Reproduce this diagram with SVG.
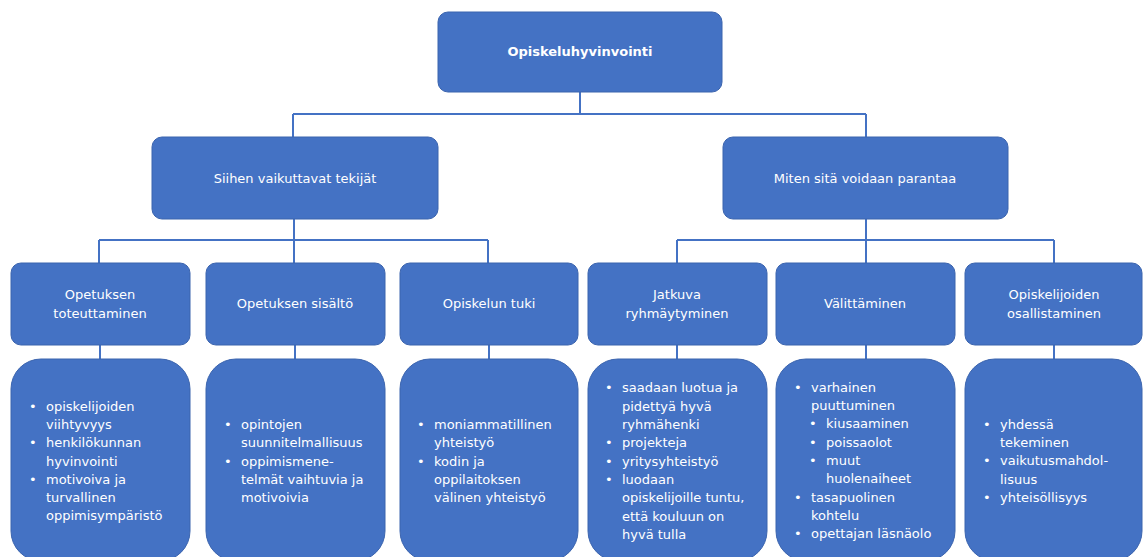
<svg xmlns="http://www.w3.org/2000/svg" width="1143" height="557" viewBox="0 0 1143 557">
<style>
.box{fill:#4472C4;stroke:#3B64AE;stroke-width:1}
.t{font-family:"DejaVu Sans",Verdana,sans-serif;font-size:13px;fill:#FFFFFF}
.c{text-anchor:middle}
.b{font-weight:bold}
.conn{fill:none;stroke:#4472C4;stroke-width:2}
</style>
<rect width="1143" height="557" fill="#FFFFFF"/>
<g id="connectors">
<path class="conn" d="M580 92V114M293 114H866M293 114V138M866 114V138"/>
<path class="conn" d="M294 218V263M99 240H488M99 240V263M488 240V263"/>
<path class="conn" d="M866 218V263M677 240H1054M677 240V263M1054 240V263"/>
<path class="conn" d="M100 344V360M295 344V360M489 344V360M677 344V360M866 344V360M1054 344V360"/>
</g>
<g id="n-root">
<rect class="box" x="438" y="12" width="284" height="80" rx="10"/>
<text class="t c b" x="580" y="56">Opiskeluhyvinvointi</text>
</g>
<g id="n-tekijat">
<rect class="box" x="152" y="137" width="286" height="82" rx="10"/>
<text class="t c" x="295" y="183">Siihen vaikuttavat tekijät</text>
</g>
<g id="n-parantaa">
<rect class="box" x="723" y="137" width="285" height="82" rx="10"/>
<text class="t c" x="865" y="183">Miten sitä voidaan parantaa</text>
</g>
<g id="n-toteuttaminen">
<rect class="box" x="11" y="263" width="179" height="82" rx="10"/>
<text class="t c" x="100" y="299">Opetuksen</text>
<text class="t c" x="100" y="318">toteuttaminen</text>
</g>
<g id="n-sisalto">
<rect class="box" x="206" y="263" width="179" height="82" rx="10"/>
<text class="t c" x="295" y="308">Opetuksen sisältö</text>
</g>
<g id="n-tuki">
<rect class="box" x="400" y="263" width="178" height="82" rx="10"/>
<text class="t c" x="489" y="308">Opiskelun tuki</text>
</g>
<g id="n-ryhmaytyminen">
<rect class="box" x="588" y="263" width="179" height="82" rx="10"/>
<text class="t c" x="677" y="299">Jatkuva</text>
<text class="t c" x="677" y="318">ryhmäytyminen</text>
</g>
<g id="n-valittaminen">
<rect class="box" x="776" y="263" width="179" height="82" rx="10"/>
<text class="t c" x="865" y="308">Välittäminen</text>
</g>
<g id="n-osallistaminen">
<rect class="box" x="965" y="263" width="177" height="82" rx="10"/>
<text class="t c" x="1054" y="299">Opiskelijoiden</text>
<text class="t c" x="1054" y="318">osallistaminen</text>
</g>
<g id="l-toteuttaminen">
<rect class="box" x="11" y="359" width="179" height="202" rx="30"/>
<text class="t"><tspan x="29" y="411">•</tspan><tspan x="46" y="411">opiskelijoiden</tspan><tspan x="46" y="429">viihtyvyys</tspan><tspan x="29" y="447">•</tspan><tspan x="46" y="447">henkilökunnan</tspan><tspan x="46" y="466">hyvinvointi</tspan><tspan x="29" y="484">•</tspan><tspan x="46" y="484">motivoiva ja</tspan><tspan x="46" y="502">turvallinen</tspan><tspan x="46" y="520">oppimisympäristö</tspan></text>
</g>
<g id="l-sisalto">
<rect class="box" x="206" y="359" width="179" height="202" rx="30"/>
<text class="t"><tspan x="224" y="429">•</tspan><tspan x="241" y="429">opintojen</tspan><tspan x="241" y="447">suunnitelmallisuus</tspan><tspan x="224" y="466">•</tspan><tspan x="241" y="466">oppimismene-</tspan><tspan x="241" y="484">telmät vaihtuvia ja</tspan><tspan x="241" y="502">motivoivia</tspan></text>
</g>
<g id="l-tuki">
<rect class="box" x="400" y="359" width="178" height="202" rx="30"/>
<text class="t"><tspan x="417" y="429">•</tspan><tspan x="434" y="429">moniammatillinen</tspan><tspan x="434" y="447">yhteistyö</tspan><tspan x="417" y="466">•</tspan><tspan x="434" y="466">kodin ja</tspan><tspan x="434" y="484">oppilaitoksen</tspan><tspan x="434" y="502">välinen yhteistyö</tspan></text>
</g>
<g id="l-ryhmaytyminen">
<rect class="box" x="588" y="359" width="179" height="202" rx="30"/>
<text class="t"><tspan x="605" y="392">•</tspan><tspan x="622" y="392">saadaan luotua ja</tspan><tspan x="622" y="411">pidettyä hyvä</tspan><tspan x="622" y="429">ryhmähenki</tspan><tspan x="605" y="447">•</tspan><tspan x="622" y="447">projekteja</tspan><tspan x="605" y="466">•</tspan><tspan x="622" y="466">yritysyhteistyö</tspan><tspan x="605" y="484">•</tspan><tspan x="622" y="484">luodaan</tspan><tspan x="622" y="502">opiskelijoille tuntu,</tspan><tspan x="622" y="521">että kouluun on</tspan><tspan x="622" y="539">hyvä tulla</tspan></text>
</g>
<g id="l-valittaminen">
<rect class="box" x="776" y="359" width="179" height="202" rx="30"/>
<text class="t"><tspan x="794" y="392">•</tspan><tspan x="811" y="392">varhainen</tspan><tspan x="811" y="410">puuttuminen</tspan><tspan x="809" y="428">•</tspan><tspan x="826" y="428">kiusaaminen</tspan><tspan x="809" y="447">•</tspan><tspan x="826" y="447">poissaolot</tspan><tspan x="809" y="465">•</tspan><tspan x="826" y="465">muut</tspan><tspan x="826" y="483">huolenaiheet</tspan><tspan x="794" y="502">•</tspan><tspan x="811" y="502">tasapuolinen</tspan><tspan x="811" y="520">kohtelu</tspan><tspan x="794" y="538">•</tspan><tspan x="811" y="538">opettajan läsnäolo</tspan></text>
</g>
<g id="l-osallistaminen">
<rect class="box" x="965" y="359" width="177" height="202" rx="30"/>
<text class="t"><tspan x="983" y="429">•</tspan><tspan x="1000" y="429">yhdessä</tspan><tspan x="1000" y="447">tekeminen</tspan><tspan x="983" y="465">•</tspan><tspan x="1000" y="465">vaikutusmahdol-</tspan><tspan x="1000" y="484">lisuus</tspan><tspan x="983" y="502">•</tspan><tspan x="1000" y="502">yhteisöllisyys</tspan></text>
</g>
</svg>
